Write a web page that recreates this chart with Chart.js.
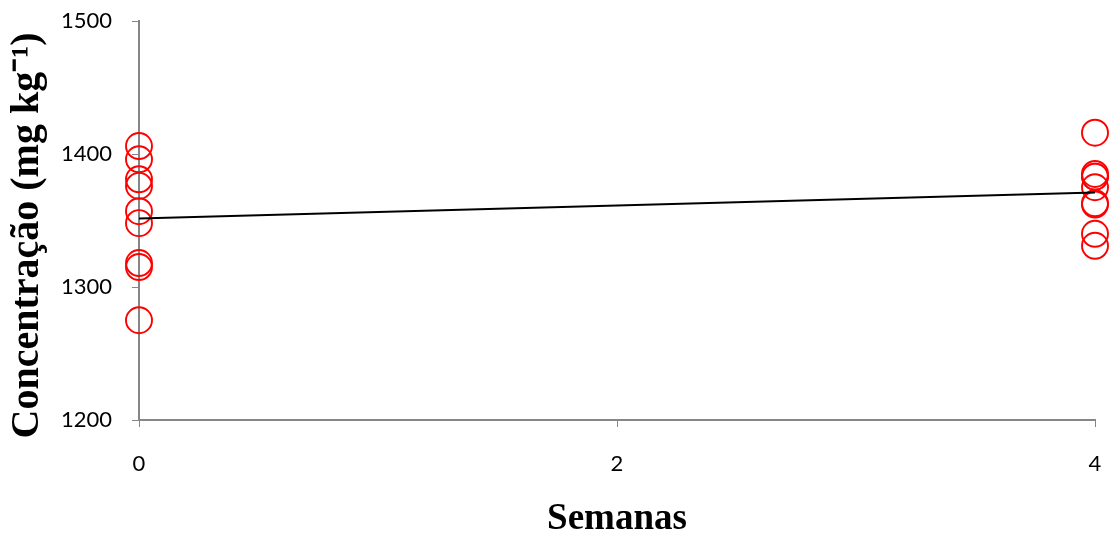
<!DOCTYPE html>
<html>
<head>
<meta charset="utf-8">
<script src="https://cdn.jsdelivr.net/npm/chart.js@4"></script>
<style>
    html, body { margin: 0; padding: 0; background: #fff; }
    #wrap { width: 1112px; height: 542px; }
</style>
</head>
<body>
<div id="wrap"><canvas id="concChart"></canvas></div>
<script>
// Semanas 0 and 4, individual measurements (mg kg-1)
const weekZeroValues = [1406, 1396, 1381, 1376, 1357, 1348, 1318, 1315, 1275];
const weekFourValues = [1416, 1385, 1383, 1383, 1375, 1363, 1362, 1340, 1331];
// trend line
const trendWeeks = [0, 4];
const trendValues = [1351.5, 1371];
const xTicks = [0, 2, 4];
const yTicks = [1200, 1300, 1400, 1500];

const axisGray = '#868686';

const points = weekZeroValues.map(v => ({ x: 0, y: v }))
    .concat(weekFourValues.map(v => ({ x: 4, y: v })));

new Chart(document.getElementById('concChart'), {
    type: 'scatter',
    data: {
        datasets: [{
            label: 'Concentração',
            data: points,
            pointStyle: 'circle',
            pointRadius: 13,
            pointBorderWidth: 1.9,
            pointBorderColor: '#ff0000',
            pointBackgroundColor: 'rgba(0,0,0,0)',
            showLine: false,
            clip: false,
            order: 1
        }, {
            label: 'Tendência',
            data: trendWeeks.map((w, i) => ({ x: w, y: trendValues[i] })),
            showLine: true,
            borderColor: '#000',
            borderWidth: 2,
            pointRadius: 0,
            clip: false,
            order: 0
        }]
    },
    options: {
        responsive: true,
        maintainAspectRatio: false,
        animation: false,
        layout: { padding: { top: 21, right: 17, left: 0, bottom: 0 } },
        plugins: {
            legend: { display: false },
            tooltip: { enabled: false }
        },
        scales: {
            x: {
                type: 'linear',
                min: 0,
                max: 4,
                afterBuildTicks: s => { s.ticks = xTicks.map(v => ({ value: v })); },
                afterFit: s => {
                    s.height = 122;
                    // keep the plot edges where the reference has them
                    s.paddingLeft = 0;
                    s.paddingRight = 0;
                },
                border: { color: axisGray, width: 2 },
                grid: { drawOnChartArea: false, drawTicks: true, tickLength: 7, color: axisGray },
                ticks: {
                    color: '#000', padding: 24,
                    font: { family: 'Lato', size: 22 },
                    callback: v => String(v)
                },
                title: {
                    display: true,
                    text: 'Semanas',
                    color: '#000',
                    padding: { top: 10, bottom: 0 },
                    font: { family: 'Liberation Serif', size: 37, weight: 'bold' }
                }
            },
            y: {
                min: 1200,
                max: 1500,
                afterBuildTicks: s => { s.ticks = yTicks.map(v => ({ value: v })); },
                afterFit: s => {
                    s.width = 139;
                    s.paddingTop = 0;
                    s.paddingBottom = 0;
                },
                border: { color: axisGray, width: 2 },
                grid: { drawOnChartArea: false, drawTicks: true, tickLength: 7, color: axisGray },
                ticks: {
                    color: '#000', padding: 20,
                    font: { family: 'Lato', size: 22 },
                    callback: v => String(v)
                },
                title: {
                    display: true,
                    // trailing spaces nudge the rotated title a bit lower
                    text: 'Concentração (mg kg⁻¹)\u00a0\u00a0\u00a0',
                    color: '#000',
                    padding: { top: 4, bottom: 0 },
                    font: { family: 'Liberation Serif', size: 40, weight: 'bold' }
                }
            }
        }
    }
});
</script>
</body>
</html>
